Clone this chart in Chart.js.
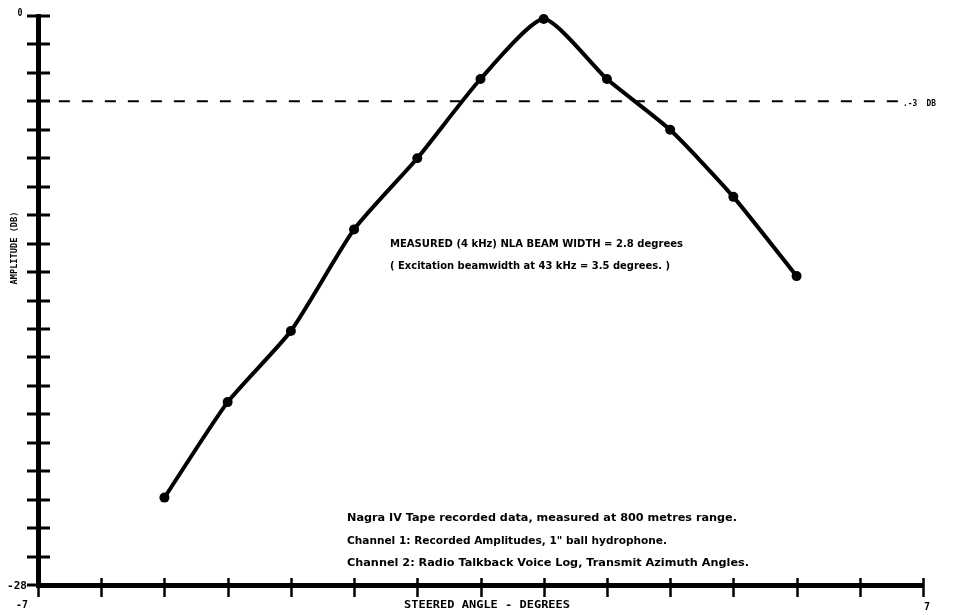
<!DOCTYPE html>
<html>
<head>
<meta charset="utf-8">
<title>NLA Beam Width</title>
<script src="https://cdn.jsdelivr.net/npm/chart.js@4.4.1/dist/chart.umd.min.js"></script>
<style>
  html, body { margin: 0; padding: 0; background: #fff; }
  #wrap { width: 957px; height: 615px; }
</style>
</head>
<body>
<div id="wrap"><canvas id="beamChart" width="957" height="615"></canvas></div>
<script>
// 1. Data
const steeredAngles = [-5, -4, -3, -2, -1, 0, 1, 2, 3, 4, 5];
const amplitudesDb = [-23.7, -19.0, -15.5, -10.5, -7.0, -3.1, -0.15, -3.1, -5.6, -8.9, -12.8];

// -3 dB reference line (dashed), drawn where it sits on the original sheet
const refLineAngles = [-6.67, 6.64];
const refLineLevel = -4.2;

// axis ranges and tick steps
const angleMin = -7, angleMax = 7, angleStep = 1;
const ampMin = -28, ampMax = 0, ampStep = 1.4;

// tick labels shown only at the ends
const xEndLabels = ['-7', '7'];
const yEndLabels = ['-28', '0'];

const notes = [
    'MEASURED (4 kHz) NLA BEAM WIDTH = 2.8 degrees',
    '( Excitation beamwidth at 43 kHz = 3.5 degrees. )',
    'Nagra IV Tape recorded data, measured at 800 metres range.',
    'Channel 1: Recorded Amplitudes, 1" ball hydrophone.',
    'Channel 2: Radio Talkback Voice Log, Transmit Azimuth Angles.'
];


// 2. Little text helper: squeeze/stretch text to a given width
function fitText(ctx, txt, x, y, w, font, align) {
    ctx.save();
    ctx.font = font;
    ctx.textBaseline = 'middle';
    ctx.textAlign = 'left';
    let m = ctx.measureText(txt).width;
    let sx = w / m;
    let left = align === 'center' ? x - w / 2 : (align === 'right' ? x - w : x);
    ctx.translate(left, y);
    ctx.scale(sx, 1);
    ctx.fillText(txt, 0, 0);
    ctx.restore();
}

function fitTextV(ctx, txt, x, y, h, font) {
    ctx.save();
    ctx.font = font;
    ctx.textBaseline = 'middle';
    ctx.textAlign = 'center';
    let m = ctx.measureText(txt).width;
    ctx.translate(x, y);
    ctx.rotate(-Math.PI / 2);
    ctx.scale(h / m, 1);
    ctx.fillText(txt, 0, 0);
    ctx.restore();
}


// 3. Plugin: crossing tick marks, end labels, axis titles, notes
const sheetDecor = {
    id: 'sheetDecor',
    afterDraw(chart) {
        const ctx = chart.ctx;
        const xs = chart.scales.x, ys = chart.scales.y;
        const area = chart.chartArea;

        ctx.save();
        ctx.strokeStyle = '#000';
        ctx.fillStyle = '#000';
        ctx.lineCap = 'butt';

        // x ticks cross the axis
        ctx.lineWidth = 2.5;
        xs.ticks.forEach(t => {
            let px = Math.round(xs.getPixelForValue(t.value)) + 0.5;
            ctx.beginPath();
            ctx.moveTo(px, area.bottom - 7);
            ctx.lineTo(px, area.bottom + 12);
            ctx.stroke();
        });

        // y ticks cross the axis
        ctx.lineWidth = 3;
        ys.ticks.forEach(t => {
            let py = Math.round(ys.getPixelForValue(t.value));
            ctx.beginPath();
            ctx.moveTo(area.left - 11, py);
            ctx.lineTo(area.left + 12, py);
            ctx.stroke();
        });

        // end labels
        const lf = 'bold 10px "DejaVu Sans Mono"';
        fitText(ctx, yEndLabels[1], 20, ys.getPixelForValue(ampMax) - 3, 5, lf, 'center');
        fitText(ctx, yEndLabels[0], 17, ys.getPixelForValue(ampMin) + 1, 20, lf, 'center');
        fitText(ctx, xEndLabels[0], xs.getPixelForValue(angleMin) - 16, area.bottom + 20, 12, lf, 'center');
        fitText(ctx, xEndLabels[1], xs.getPixelForValue(angleMax) + 4, area.bottom + 22, 6, lf, 'center');

        // axis titles
        fitText(ctx, 'STEERED ANGLE - DEGREES', 487, area.bottom + 20, 166, 'bold 11px "DejaVu Sans Mono"', 'center');
        fitTextV(ctx, 'AMPLITUDE (DB)', 15, 248, 73, 'bold 9px "DejaVu Sans Mono"');

        // -3 dB tag at the end of the dashed line
        fitText(ctx, '.-3  DB', 903, ys.getPixelForValue(refLineLevel) + 2, 33, 'bold 9px "DejaVu Sans Mono"', 'left');

        // notes
        const nf = 'bold 11px "DejaVu Sans"';
        fitText(ctx, notes[0], 390, 244, 293, nf, 'left');
        fitText(ctx, notes[1], 390, 266, 280, nf, 'left');
        const bf = 'bold 10px "DejaVu Sans"';
        fitText(ctx, notes[2], 347, 518, 390, bf, 'left');
        fitText(ctx, notes[3], 347, 541, 320, bf, 'left');
        fitText(ctx, notes[4], 347, 563, 402, bf, 'left');

        ctx.restore();
    }
};


// 4. Chart setup
const ctxBeam = document.getElementById('beamChart').getContext('2d');

new Chart(ctxBeam, {
    type: 'line',
    data: {
        datasets: [
            {
                data: steeredAngles.map((a, i) => ({ x: a, y: amplitudesDb[i] })),
                borderColor: '#000',
                borderWidth: 4,
                tension: 0.2,
                pointRadius: 5,
                pointBackgroundColor: '#000',
                pointBorderColor: '#000',
                pointBorderWidth: 0,
                clip: false,
                order: 0
            },
            {
                data: refLineAngles.map(a => ({ x: a, y: refLineLevel })),
                borderColor: '#000',
                borderWidth: 2,
                borderDash: [11, 12],
                pointRadius: 0,
                fill: false,
                clip: false,
                order: 1
            }
        ]
    },
    options: {
        responsive: false,
        animation: false,
        devicePixelRatio: 1,
        layout: { padding: { left: 38, right: 34, top: 16, bottom: 30 } },
        plugins: { legend: { display: false }, tooltip: { enabled: false } },
        scales: {
            x: {
                type: 'linear',
                min: angleMin, max: angleMax,
                ticks: { stepSize: angleStep, display: false },
                grid: { display: false },
                border: { display: true, width: 5, color: '#000' },
                afterFit: s => { s.height = 0; }
            },
            y: {
                type: 'linear',
                min: ampMin, max: ampMax,
                ticks: { stepSize: ampStep, display: false },
                grid: { display: false },
                border: { display: true, width: 5, color: '#000' },
                afterFit: s => { s.width = 0; }
            }
        }
    },
    plugins: [sheetDecor]
});
</script>
</body>
</html>
